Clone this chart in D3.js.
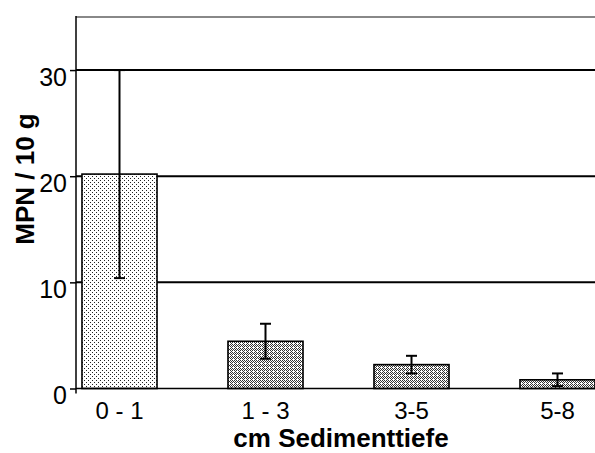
<!DOCTYPE html>
<html>
<head>
<meta charset="utf-8">
<script src="https://cdn.jsdelivr.net/npm/d3@7/dist/d3.min.js"></script>
<style>
  html, body { margin: 0; padding: 0; background: #fff; }
  svg { display: block; font-family: "Liberation Sans", Arial, sans-serif; }
</style>
</head>
<body>
<svg id="chart" width="595" height="453"></svg>
<script>
// MPN counts per sediment depth layer (mean and standard deviation)
const categories = ["0 - 1", "1 - 3", "3-5", "5-8"];
const means      = [20.2, 4.45, 2.25, 0.82];
const errors     = [9.8, 1.65, 0.83, 0.6];
const yTicks     = [0, 10, 20, 30];
const yLabel     = "MPN / 10 g";
const xLabel     = "cm Sedimenttiefe";

const W = 595, H = 453;
const svg = d3.select("#chart");

// plot frame; the category band runs past the right edge and is clipped
const plotLeft = 76, plotTop = 17, plotBottom = 388.5;
const x = d3.scaleBand()
  .domain(categories)
  .range([46.5, 630.5])
  .paddingInner(0.486)
  .paddingOuter(0.243);
const y = d3.scaleLinear().domain([0, 35]).range([plotBottom, plotTop]);

// stipple fills
const defs = svg.append("defs");
const light = defs.append("pattern").attr("id", "dotsLight")
  .attr("patternUnits", "userSpaceOnUse").attr("width", 4).attr("height", 4);
light.append("rect").attr("width", 4).attr("height", 4).attr("fill", "#fff");
[[0, 0], [2, 2]].forEach(([px, py]) =>
  light.append("rect").attr("x", px).attr("y", py).attr("width", 1).attr("height", 1).attr("fill", "#222"));

const dense = defs.append("pattern").attr("id", "dotsDense")
  .attr("patternUnits", "userSpaceOnUse").attr("width", 4).attr("height", 4);
dense.append("rect").attr("width", 4).attr("height", 4).attr("fill", "#fff");
[[0, 0], [2, 0], [1, 1], [3, 1], [0, 2], [2, 2], [3, 3]].forEach(([px, py]) =>
  dense.append("rect").attr("x", px).attr("y", py).attr("width", 1).attr("height", 1).attr("fill", "#333"));

// top frame line
svg.append("line")
  .attr("x1", plotLeft).attr("x2", W).attr("y1", y(35)).attr("y2", y(35))
  .attr("stroke", "#888").attr("stroke-width", 2);

// horizontal gridlines
svg.append("g").selectAll("line").data(yTicks.filter(d => d > 0)).join("line")
  .attr("x1", plotLeft).attr("x2", W)
  .attr("y1", d => y(d)).attr("y2", d => y(d))
  .attr("stroke", "#000").attr("stroke-width", 2);

// bars
svg.append("g").selectAll("rect").data(categories).join("rect")
  .attr("x", d => x(d))
  .attr("width", x.bandwidth())
  .attr("y", (d, i) => y(means[i]))
  .attr("height", (d, i) => y(0) - y(means[i]))
  .attr("fill", (d, i) => i === 0 ? "url(#dotsLight)" : "url(#dotsDense)")
  .attr("stroke", "#000").attr("stroke-width", 1.6);

// baseline
svg.append("line")
  .attr("x1", plotLeft).attr("x2", W).attr("y1", y(0)).attr("y2", y(0))
  .attr("stroke", "#000").attr("stroke-width", 1.6);

// error bars
const eb = svg.append("g").attr("stroke", "#000").attr("stroke-width", 2);
categories.forEach((c, i) => {
  const cx = x(c) + x.bandwidth() / 2;
  const hi = y(means[i] + errors[i]), lo = y(means[i] - errors[i]);
  eb.append("line").attr("x1", cx).attr("x2", cx).attr("y1", hi).attr("y2", lo);
  eb.append("line").attr("x1", cx - 5.5).attr("x2", cx + 5.5).attr("y1", hi).attr("y2", hi);
  eb.append("line").attr("x1", cx - 5.5).attr("x2", cx + 5.5).attr("y1", lo).attr("y2", lo);
});

// y axis
const yAxis = d3.axisLeft(y).tickValues(yTicks).tickSize(6).tickFormat(d3.format("d"));
const ya = svg.append("g").attr("transform", `translate(${plotLeft},0)`).call(yAxis);
ya.select(".domain").remove();
ya.selectAll(".tick line").attr("stroke", "#000").attr("stroke-width", 1.5);
ya.selectAll(".tick text")
  .attr("x", -9).attr("dy", null).attr("y", 15)
  .attr("font-size", 25).attr("fill", "#000")
  .attr("font-family", "'Liberation Sans', Arial, sans-serif");
svg.append("line")
  .attr("x1", plotLeft).attr("x2", plotLeft).attr("y1", y(35) - 1).attr("y2", y(0) + 5)
  .attr("stroke", "#000").attr("stroke-width", 1.5);

// category labels
svg.append("g").selectAll("text").data(categories).join("text")
  .attr("x", d => x(d) + x.bandwidth() / 2)
  .attr("y", 419)
  .attr("text-anchor", "middle")
  .attr("font-size", 24)
  .text(d => d);

// axis titles
svg.append("text")
  .attr("x", 341).attr("y", 447)
  .attr("text-anchor", "middle")
  .attr("font-size", 26).attr("font-weight", "bold")
  .text(xLabel);

svg.append("text")
  .attr("transform", "translate(34,179) rotate(-90)")
  .attr("text-anchor", "middle")
  .attr("font-size", 26).attr("font-weight", "bold")
  .text(yLabel);
</script>
</body>
</html>
